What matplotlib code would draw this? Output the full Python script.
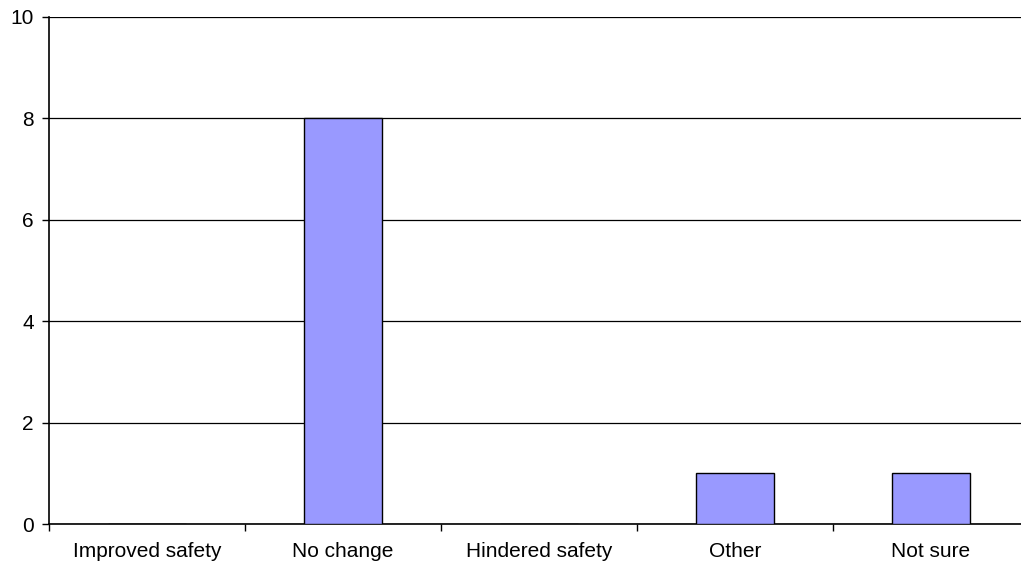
import matplotlib
matplotlib.use("Agg")
import matplotlib.pyplot as plt
import numpy as np

plt.rcParams['font.family'] = ['Liberation Sans', 'DejaVu Sans']

# ---------- DATA ----------
categories = ["Improved safety", "No change", "Hindered safety", "Other", "Not sure"]
counts = [0, 8, 0, 1, 1]
y_ticks = [0, 2, 4, 6, 8, 10]

# ---------- PLOT ----------
fig = plt.figure(figsize=(10.21, 5.67), dpi=100)
# right edge of the plot area runs slightly past the image, as in the reference
ax = fig.add_axes([49 / 1021, 43 / 567, 980 / 1021, 507 / 567])

x = np.arange(len(categories))
ax.bar(x, counts, width=0.40, color="#9999FF", edgecolor="black", linewidth=1.0, zorder=3)

ax.set_xlim(-0.5, len(categories) - 0.5)
ax.set_ylim(0, 10)
ax.set_yticks(y_ticks)
ax.yaxis.grid(True, color="black", linewidth=0.9, zorder=0)
ax.set_axisbelow(True)

# category labels centred, tick marks between categories
ax.set_xticks(x)
ax.set_xticklabels(categories)
ax.set_xticks(np.arange(-0.5, len(categories) + 0.5, 1), minor=True)
ax.tick_params(axis="x", which="major", length=0, pad=13, labelsize=15)
ax.tick_params(axis="x", which="minor", length=5, width=1, direction="out", color="black")
ax.tick_params(axis="y", length=5, width=1, direction="out", pad=6, labelsize=15)

for side in ["top", "right"]:
    ax.spines[side].set_visible(False)
ax.spines["left"].set_linewidth(1.2)
ax.spines["bottom"].set_linewidth(1.2)

fig.savefig("out.png", dpi=100)
